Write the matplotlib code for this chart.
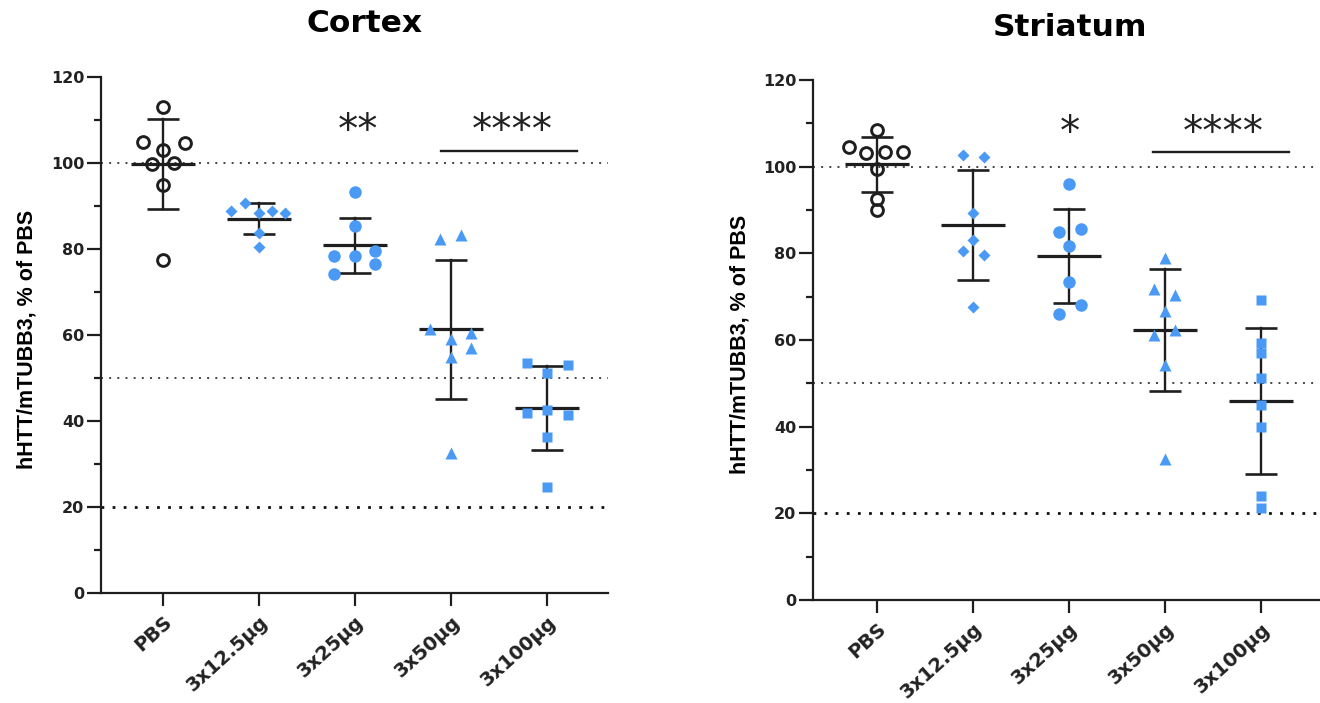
import numpy as np
import matplotlib
matplotlib.use("Agg")
import matplotlib.pyplot as plt
from matplotlib.ticker import MultipleLocator

plt.rcParams['font.family'] = ['DejaVu Sans']

# ---------------- data ----------------
groups = ["PBS", "3x12.5\u00b5g", "3x25\u00b5g", "3x50\u00b5g", "3x100\u00b5g"]

cortex_pbs = [113.1, 105.0, 104.7, 103.0, 99.7, 100.1, 95.0, 77.4]
cortex_12 = [88.9, 90.6, 88.4, 88.9, 88.4, 83.8, 80.4]
cortex_25 = [93.3, 85.4, 78.4, 78.4, 79.6, 74.3, 76.5]
cortex_50 = [82.3, 83.3, 61.3, 60.4, 59.0, 56.9, 55.0, 32.5]
cortex_100 = [53.6, 53.0, 51.1, 41.8, 42.6, 41.4, 36.3, 24.7]

striatum_pbs = [108.5, 104.5, 103.1, 103.3, 103.3, 99.4, 92.5, 89.9]
striatum_12 = [102.7, 102.2, 89.4, 83.1, 80.6, 79.7, 67.7]
striatum_25 = [96.1, 84.9, 85.7, 81.6, 73.3, 68.1, 66.1]
striatum_50 = [78.9, 71.7, 70.5, 66.7, 61.2, 62.2, 54.3, 32.6]
striatum_100 = [69.2, 59.3, 57.0, 51.3, 45.1, 39.9, 24.0, 21.3]

cortex_sig = ["**", "****"]
striatum_sig = ["*", "****"]
ref_lines = [100, 50, 20]

# ---------------- layout (horizontal scatter spread, category units) ----------------
cortex_dx = [
    [0, -0.21, 0.23, 0, -0.11, 0.11, 0, 0],
    [-0.29, -0.15, 0, 0.13, 0.27, 0, 0],
    [0, 0, -0.22, 0, 0.21, -0.22, 0.21],
    [-0.11, 0.10, -0.22, 0.21, 0, 0.21, 0, 0],
    [-0.21, 0.22, 0, -0.21, 0, 0.22, 0, 0],
]
striatum_dx = [
    [0, -0.29, -0.11, 0.08, 0.27, 0, 0, 0],
    [-0.10, 0.11, 0, 0, -0.10, 0.11, 0],
    [0, -0.10, 0.12, 0, 0, 0.12, -0.10],
    [0, -0.11, 0.10, 0, -0.11, 0.10, 0, 0],
    [0, 0, 0, 0, 0, 0, 0, 0],
]

BLUE = '#4a9af5'
DARK = '#1e1e1e'
markers = ['o', 'D', 'o', '^', 's']
msizes = [8.5, 6.5, 9, 8.5, 7.5]


def draw_panel(ax, data, dx, sig, sig_y, bar_x, bar_y, star_x):
    for i, vals in enumerate(data):
        vals = np.asarray(vals, dtype=float)
        xs = i + np.asarray(dx[i])
        if i == 0:
            ax.plot(xs, vals, linestyle='none', marker='o', ms=8.5,
                    mfc='none', mec=DARK, mew=2.1, zorder=4)
        else:
            ax.plot(xs, vals, linestyle='none', marker=markers[i], ms=msizes[i],
                    mfc=BLUE, mec='none', zorder=4)
        m = vals.mean()
        sd = vals.std(ddof=1)
        ax.plot([i - 0.33, i + 0.33], [m, m], color=DARK, lw=2.3, zorder=3,
                solid_capstyle='butt')
        ax.plot([i, i], [m - sd, m + sd], color=DARK, lw=1.7, zorder=3)
        for yy in (m - sd, m + sd):
            ax.plot([i - 0.17, i + 0.17], [yy, yy], color=DARK, lw=1.9, zorder=3,
                    solid_capstyle='butt')

    ax.axhline(ref_lines[0], color='#444444', lw=1.4, ls=(0, (1, 3.2)), zorder=1)
    ax.axhline(ref_lines[1], color='#444444', lw=1.4, ls=(0, (1, 3.2)), zorder=1)
    ax.axhline(ref_lines[2], color='#111111', lw=2.0, ls=(0, (1, 3)), zorder=1)

    ax.plot(bar_x, [bar_y, bar_y], color=DARK, lw=1.7, zorder=3)
    for xc, s in zip(star_x, sig):
        ax.text(xc, sig_y, s, ha='center', va='center', fontsize=29,
                color='#222222')

    ax.set_ylim(0, 120)
    ax.yaxis.set_major_locator(MultipleLocator(20))
    ax.yaxis.set_minor_locator(MultipleLocator(10))
    ax.set_xticks(range(len(groups)))
    ax.set_xticklabels(groups, rotation=42, ha='right', rotation_mode='anchor',
                       fontsize=14, fontweight='bold', color='#222222')
    for lab in ax.get_yticklabels():
        lab.set_fontweight('bold')
        lab.set_color('#222222')
    ax.tick_params(axis='y', which='major', length=10, width=1.6, labelsize=11.5,
                   pad=2, color=DARK)
    ax.tick_params(axis='y', which='minor', length=5, width=1.6, color=DARK)
    ax.tick_params(axis='x', length=9, width=1.6, pad=5, color=DARK)
    for s in ('top', 'right'):
        ax.spines[s].set_visible(False)
    for s in ('left', 'bottom'):
        ax.spines[s].set_linewidth(1.6)
        ax.spines[s].set_color(DARK)


fig = plt.figure(figsize=(13.2, 7.03), dpi=100)
W, H = 1320, 703
ax1 = fig.add_axes([101 / W, 1 - 593 / H, (608 - 101) / W, (593 - 77) / H])
ax2 = fig.add_axes([813 / W, 1 - 600 / H, (1319 - 813) / W, (600 - 80) / H])

draw_panel(ax1, [cortex_pbs, cortex_12, cortex_25, cortex_50, cortex_100], cortex_dx,
           cortex_sig, 107.3, [2.90, 4.31], 102.8, [2.03, 3.64])
draw_panel(ax2, [striatum_pbs, striatum_12, striatum_25, striatum_50, striatum_100],
           striatum_dx, striatum_sig, 107.6, [2.875, 4.29], 103.3, [2.01, 3.61])
ax1.set_xlim(-0.646, 4.635)
ax2.set_xlim(-0.667, 4.604)

fig.text(365 / W, 1 - 23 / H, "Cortex", ha='center', va='center', fontsize=22.5,
         fontweight='bold')
fig.text(1070 / W, 1 - 28 / H, "Striatum", ha='center', va='center', fontsize=22.5,
         fontweight='bold')
ylab = "hHTT/mTUBB3, % of PBS"
fig.text(27 / W, 1 - 339 / H, ylab, rotation=90, ha='center', va='center',
         fontsize=15.5, fontweight='bold', family='Liberation Sans')
fig.text(740 / W, 1 - 344 / H, ylab, rotation=90, ha='center', va='center',
         fontsize=15.5, fontweight='bold', family='Liberation Sans')

fig.savefig("out.png", dpi=100)
